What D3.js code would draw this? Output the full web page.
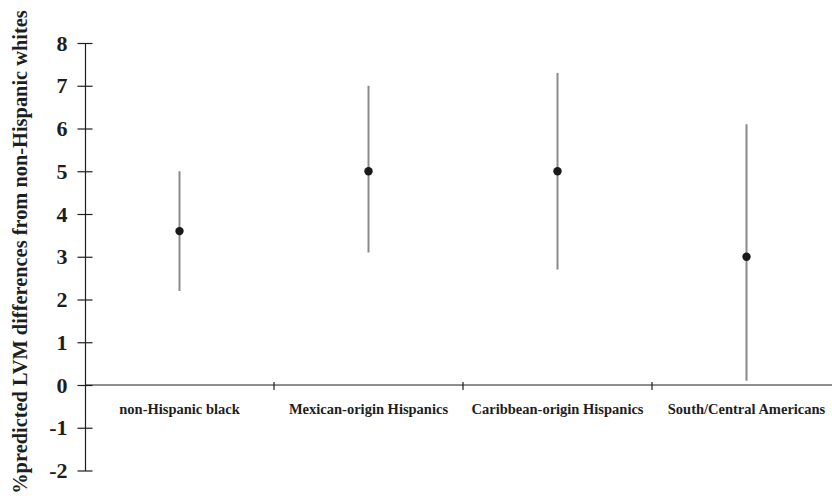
<!DOCTYPE html>
<html>
<head>
<meta charset="utf-8">
<script src="https://cdn.jsdelivr.net/npm/d3@7"></script>
<style>
  html, body { margin: 0; padding: 0; background: #fff; }
  svg { display: block; }
</style>
</head>
<body>
<svg id="chart" width="832" height="504"></svg>
<script>
// Groups compared against non-Hispanic whites
const categories = ["non-Hispanic black", "Mexican-origin Hispanics", "Caribbean-origin Hispanics", "South/Central Americans"];
// Point estimates and 95% confidence limits (% predicted LVM difference)
const estimates = [3.6, 5.0, 5.0, 3.0];
const lowerCI   = [2.2, 3.1, 2.7, 0.1];
const upperCI   = [5.0, 7.0, 7.3, 6.1];
const yTicks = [-2, -1, 0, 1, 2, 3, 4, 5, 6, 7, 8];
const yTitle = "%predicted LVM differences from non-Hispanic whites";

const rows = categories.map((c, i) => ({ cat: c, est: estimates[i], lo: lowerCI[i], hi: upperCI[i] }));

const svg = d3.select("#chart");
const font = "'Liberation Serif', 'Times New Roman', serif";
const ink = "#1e1e1e";

const y = d3.scaleLinear().domain([-2, 8]).range([470.5, 43]);
const x = d3.scaleBand().domain(categories).range([85, 841]);

// Vertical axis: ticks cross the axis line, labels use a plain hyphen for negatives
const yAxis = svg.append("g")
  .attr("transform", "translate(85,0)")
  .call(d3.axisLeft(y).tickValues(yTicks).tickFormat(d => String(d)).tickSizeInner(7.5).tickSizeOuter(0).tickPadding(10));
yAxis.select(".domain").attr("stroke", ink).attr("stroke-width", 1.2);
yAxis.selectAll(".tick line").attr("x1", -7.5).attr("x2", 7.5).attr("stroke", ink).attr("stroke-width", 1.2);
yAxis.selectAll(".tick text")
  .attr("font-family", font).attr("font-weight", "bold").attr("font-size", 22).attr("fill", ink);

// Horizontal zero line with category separators
const xAxisG = svg.append("g").attr("transform", `translate(0,${y(0)})`);
xAxisG.append("line")
  .attr("x1", 85).attr("x2", 841)
  .attr("stroke", ink).attr("stroke-width", 1.2);
xAxisG.selectAll("line.sep")
  .data(categories.slice(1))
  .join("line")
  .attr("class", "sep")
  .attr("x1", d => x(d)).attr("x2", d => x(d))
  .attr("y1", -3).attr("y2", 5)
  .attr("stroke", ink).attr("stroke-width", 1.2);
xAxisG.selectAll("text")
  .data(categories)
  .join("text")
  .attr("x", d => x(d) + x.bandwidth() / 2)
  .attr("y", 28.5)
  .attr("text-anchor", "middle")
  .attr("font-family", font).attr("font-weight", "bold").attr("font-size", 14.5)
  .attr("fill", ink)
  .text(d => d);

// Confidence intervals
svg.selectAll("line.ci")
  .data(rows)
  .join("line")
  .attr("class", "ci")
  .attr("x1", d => x(d.cat) + x.bandwidth() / 2)
  .attr("x2", d => x(d.cat) + x.bandwidth() / 2)
  .attr("y1", d => y(d.lo)).attr("y2", d => y(d.hi))
  .attr("stroke", "#8a8a8a").attr("stroke-width", 2);

// Point estimates
svg.selectAll("circle.est")
  .data(rows)
  .join("circle")
  .attr("class", "est")
  .attr("cx", d => x(d.cat) + x.bandwidth() / 2)
  .attr("cy", d => y(d.est))
  .attr("r", 4.2)
  .attr("fill", "#1a1a1a");

// Y axis title, condensed along its length so it fits the plot height
const titleG = svg.append("g");
const title = titleG.append("text")
  .attr("text-anchor", "middle")
  .attr("font-family", font).attr("font-weight", "bold").attr("font-size", 21)
  .attr("fill", ink)
  .text(yTitle);
const natural = title.node().getComputedTextLength();
const squeeze = Math.min(1, 484 / natural);
titleG.attr("transform", `translate(27,252) rotate(-90) scale(${squeeze},1)`);
</script>
</body>
</html>
